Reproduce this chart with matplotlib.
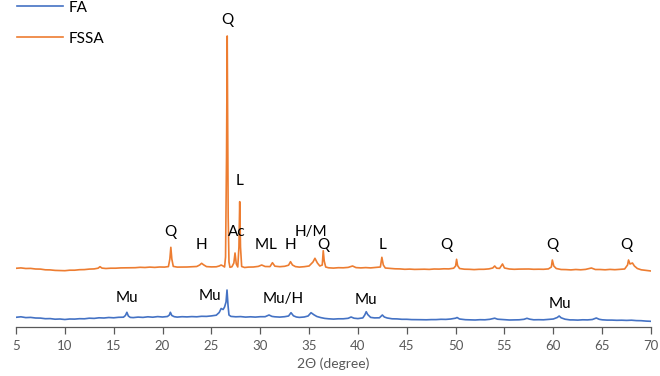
"""XRD patterns of FA and FSSA (2-theta scan), offset stacked, phase labels."""

import matplotlib

matplotlib.use("Agg")
import matplotlib.pyplot as plt

plt.rcParams["font.family"] = ["Lato", "DejaVu Sans"]

# --- data (intensity in arbitrary units) ------------------------------------
FA_2THETA = [
    5.0, 5.5, 6.0, 6.5, 7.0, 7.5, 8.0, 8.5, 9.0, 9.5, 10.0, 10.5, 11.0, 11.5,
    12.0, 12.5, 13.0, 13.5, 14.0, 14.5, 15.0, 15.5, 16.0, 16.2, 16.35, 16.5,
    16.7, 17.0, 17.5, 18.0, 18.5, 19.0, 19.5, 20.0, 20.5, 20.7, 20.8, 20.95,
    21.2, 21.5, 22.0, 22.5, 23.0, 23.5, 24.0, 24.5, 25.0, 25.5, 25.8, 26.0,
    26.2, 26.35, 26.5, 26.6, 26.7, 26.8, 27.0, 27.5, 28.0, 28.5, 29.0, 29.5,
    30.0, 30.5, 30.9, 31.2, 31.5, 32.0, 32.5, 32.9, 33.15, 33.4, 33.7, 34.0,
    34.5, 34.9, 35.2, 35.5, 35.8, 36.2, 36.6, 37.0, 37.5, 38.0, 38.5, 39.0,
    39.3, 39.6, 40.0, 40.5, 40.7, 40.85, 41.0, 41.3, 41.7, 42.2, 42.5, 42.7,
    43.0, 43.5, 44.0, 44.5, 45.0, 45.5, 46.0, 46.5, 47.0, 47.5, 48.0, 48.5,
    49.0, 49.5, 50.0, 50.15, 50.4, 51.0, 51.5, 52.0, 52.5, 53.0, 53.5, 54.0,
    54.3, 55.0, 55.5, 56.0, 56.5, 57.0, 57.3, 57.6, 58.0, 58.5, 59.0, 59.5,
    60.0, 60.4, 60.6, 60.8, 61.2, 61.7, 62.0, 62.5, 63.0, 63.5, 64.0, 64.4,
    64.7, 65.0, 65.5, 66.0, 66.5, 67.0, 67.5, 68.0, 68.5, 69.0, 69.5, 70.0,
]
FA_COUNTS = [
    9.7, 10.2, 9.4, 9.6, 9.0, 8.9, 8.3, 8.4, 7.8, 8.0, 7.5, 8.0, 7.9, 8.3,
    8.2, 8.8, 8.6, 9.2, 9.0, 9.5, 9.2, 9.7, 9.8, 11.5, 14.7, 11.0,
    9.6, 9.4, 9.9, 9.6, 10.2, 9.8, 10.4, 10.0, 10.5, 12.0, 14.7, 11.5,
    10.3, 9.9, 10.3, 10.1, 10.4, 10.2, 10.7, 10.6, 11.1, 11.8, 14.5, 18.5,
    17.5, 20.0, 25.0, 37.0, 22.0, 12.0, 10.6, 10.2, 10.4, 9.9, 10.2, 9.9,
    10.3, 10.3, 12.0, 10.6, 10.2, 9.9, 10.3, 11.0, 14.3, 11.2, 10.0, 9.6,
    10.0, 11.0, 14.3, 12.2, 10.5, 9.4, 8.6, 8.2, 7.9, 8.2, 8.2, 8.7,
    10.0, 8.8, 8.4, 9.1, 12.0, 15.3, 12.5, 9.6, 9.1, 9.2, 12.0, 10.0,
    9.0, 8.2, 8.1, 7.7, 7.7, 7.4, 7.4, 7.3, 7.2, 7.4, 7.4, 7.7,
    7.6, 8.0, 8.8, 9.5, 8.0, 7.3, 7.1, 7.0, 7.3, 7.2, 7.7, 8.8,
    7.8, 7.3, 7.0, 7.1, 7.2, 7.7, 8.7, 7.8, 7.2, 7.3, 7.2, 7.6,
    8.0, 9.5, 11.0, 9.2, 7.8, 7.1, 7.1, 6.9, 7.2, 7.1, 7.5, 9.0,
    7.7, 7.2, 6.9, 6.9, 6.7, 6.8, 6.6, 6.8, 6.4, 6.3, 5.9, 5.7,
]

FSSA_2THETA = [
    5.0, 5.5, 6.0, 6.5, 7.0, 7.5, 8.0, 8.5, 9.0, 9.5, 10.0, 10.5, 11.0, 11.5,
    12.0, 12.5, 13.0, 13.4, 13.6, 13.8, 14.2, 14.7, 15.2, 15.7, 16.2, 16.7,
    17.2, 17.7, 18.2, 18.7, 19.2, 19.7, 20.2, 20.6, 20.75, 20.85, 20.95, 21.1,
    21.5, 22.0, 22.5, 23.0, 23.5, 23.8, 24.0, 24.2, 24.5, 25.0, 25.5, 25.8,
    26.0, 26.2, 26.35, 26.45, 26.55, 26.62, 26.68, 26.72, 26.8, 26.9, 27.1,
    27.3, 27.42, 27.55, 27.7, 27.82, 27.9, 27.98, 28.1, 28.4, 28.8, 29.3,
    29.8, 30.15, 30.5, 31.0, 31.25, 31.5, 32.0, 32.5, 32.9, 33.1, 33.3, 33.6,
    34.0, 34.5, 35.0, 35.4, 35.6, 35.85, 36.1, 36.35, 36.45, 36.55, 36.7,
    37.0, 37.5, 38.0, 38.5, 39.0, 39.45, 39.8, 40.3, 40.8, 41.3, 41.8, 42.3,
    42.45, 42.6, 42.8, 43.3, 43.8, 44.3, 44.8, 45.3, 45.8, 46.3, 46.8, 47.3,
    47.8, 48.3, 48.8, 49.3, 49.8, 50.0, 50.1, 50.2, 50.4, 50.9, 51.4, 51.9,
    52.4, 52.9, 53.4, 53.8, 54.0, 54.2, 54.5, 54.8, 55.0, 55.5, 56.0, 56.5,
    57.0, 57.5, 58.0, 58.5, 59.0, 59.5, 59.8, 59.9, 60.05, 60.3, 60.8, 61.3,
    61.8, 62.3, 62.8, 63.3, 63.9, 64.3, 64.8, 65.3, 65.8, 66.3, 66.8, 67.3,
    67.6, 67.7, 67.85, 68.1, 68.3, 68.6, 69.0, 69.5, 70.0,
]
FSSA_COUNTS = [
    8.7, 9.1, 8.5, 8.6, 8.0, 7.9, 7.2, 7.1, 6.6, 6.5, 6.3, 6.8, 6.8, 7.3,
    7.4, 7.9, 8.1, 8.8, 10.3, 8.9, 8.5, 8.8, 8.8, 9.1, 9.2, 9.4,
    9.3, 9.7, 9.5, 9.9, 9.6, 10.0, 9.9, 10.4, 18.0, 29.7, 18.0, 10.6,
    9.9, 9.9, 10.0, 10.3, 10.5, 12.0, 13.7, 12.2, 10.4, 10.1, 10.2, 11.0,
    12.0, 11.0, 10.0, 20.0, 120.0, 241.0, 120.0, 60.0, 15.0, 9.7, 10.2,
    14.0, 24.0, 13.0, 10.0, 30.0, 75.3, 30.0, 10.5, 9.5, 9.9, 10.0,
    10.6, 12.0, 10.5, 10.4, 14.3, 10.8, 10.3, 10.7, 11.8, 15.3, 12.0, 10.4,
    9.9, 10.3, 11.0, 15.0, 18.7, 14.0, 11.0, 12.0, 26.3, 16.0, 10.0,
    9.2, 8.9, 9.3, 9.2, 9.6, 11.0, 9.4, 9.1, 9.4, 9.1, 9.5, 10.0,
    19.7, 12.0, 9.0, 8.6, 8.2, 8.1, 7.7, 7.9, 7.6, 7.7, 7.8, 7.6,
    8.0, 7.9, 8.2, 8.1, 8.8, 11.0, 17.7, 11.5, 8.5, 7.8, 7.7, 7.4,
    7.7, 7.7, 8.1, 9.0, 11.0, 8.8, 8.6, 13.0, 9.0, 8.0, 7.7, 7.9,
    7.9, 8.0, 7.7, 7.8, 7.7, 8.1, 10.0, 17.0, 11.0, 8.5, 7.5, 7.4,
    7.1, 7.5, 7.2, 7.6, 9.0, 7.5, 7.5, 7.2, 7.6, 7.3, 7.7, 8.0,
    12.0, 17.0, 13.0, 14.0, 11.0, 8.5, 7.2, 6.6, 6.0,
]
FSSA_OFFSET = 50.0

# phase labels: (text, 2-theta, height in plot units)
FSSA_PHASES = ["Q", "Q", "H", "Ac", "L", "M", "L", "H", "H/M", "Q", "L", "Q", "Q", "Q"]
FSSA_PHASE_X = [26.6, 20.8, 24.0, 27.55, 27.9, 30.15, 31.3, 33.1, 35.2, 36.5, 42.5, 49.05, 59.95, 67.5]
FSSA_PHASE_Y = [307, 95, 82, 95, 146, 82, 82, 82, 95, 82, 82, 82, 82, 82]
FA_PHASES = ["Mu", "Mu", "Mu/H", "Mu", "Mu"]
FA_PHASE_X = [16.35, 24.9, 32.4, 40.8, 60.7]
FA_PHASE_Y = [28.5, 31, 27.5, 26.5, 22.5]

BLUE = "#4472c4"
ORANGE = "#ed7d31"
AXIS_GREY = "#595959"

fig = plt.figure(figsize=(6.6, 3.76), dpi=100)
ax = fig.add_axes([16 / 660, 49 / 376, 635 / 660, 322 / 376])

ax.plot(FA_2THETA, FA_COUNTS, color=BLUE, lw=1.2, label="FA")
ax.plot(FSSA_2THETA, [c + FSSA_OFFSET for c in FSSA_COUNTS], color=ORANGE, lw=1.2,
        label="FSSA")

for txt, x, y in zip(FSSA_PHASES, FSSA_PHASE_X, FSSA_PHASE_Y):
    ax.text(x, y, txt, ha="center", va="center", fontsize=11, color="black")
for txt, x, y in zip(FA_PHASES, FA_PHASE_X, FA_PHASE_Y):
    ax.text(x, y, txt, ha="center", va="center", fontsize=11, color="black")

ax.set_xlim(5, 70)
ax.set_ylim(0, 322)
ax.set_xticks(range(5, 71, 5))
ax.set_yticks([])
for side in ("left", "right", "top"):
    ax.spines[side].set_visible(False)
ax.spines["bottom"].set_color(AXIS_GREY)
ax.spines["bottom"].set_linewidth(0.9)
ax.tick_params(axis="x", direction="out", length=5, width=0.9, color=AXIS_GREY,
               labelcolor=AXIS_GREY, labelsize=9.5, pad=4)
ax.set_xlabel("2\u0398 (degree)", fontsize=10, color=AXIS_GREY, labelpad=4)

ax.legend(loc="upper left", bbox_to_anchor=(16 / 660, 1.0), bbox_transform=fig.transFigure,
          frameon=False, fontsize=11, handlelength=3.0, handletextpad=0.4,
          labelspacing=1.1, borderaxespad=0.0, borderpad=0.05)

fig.savefig("out.png", dpi=100)
